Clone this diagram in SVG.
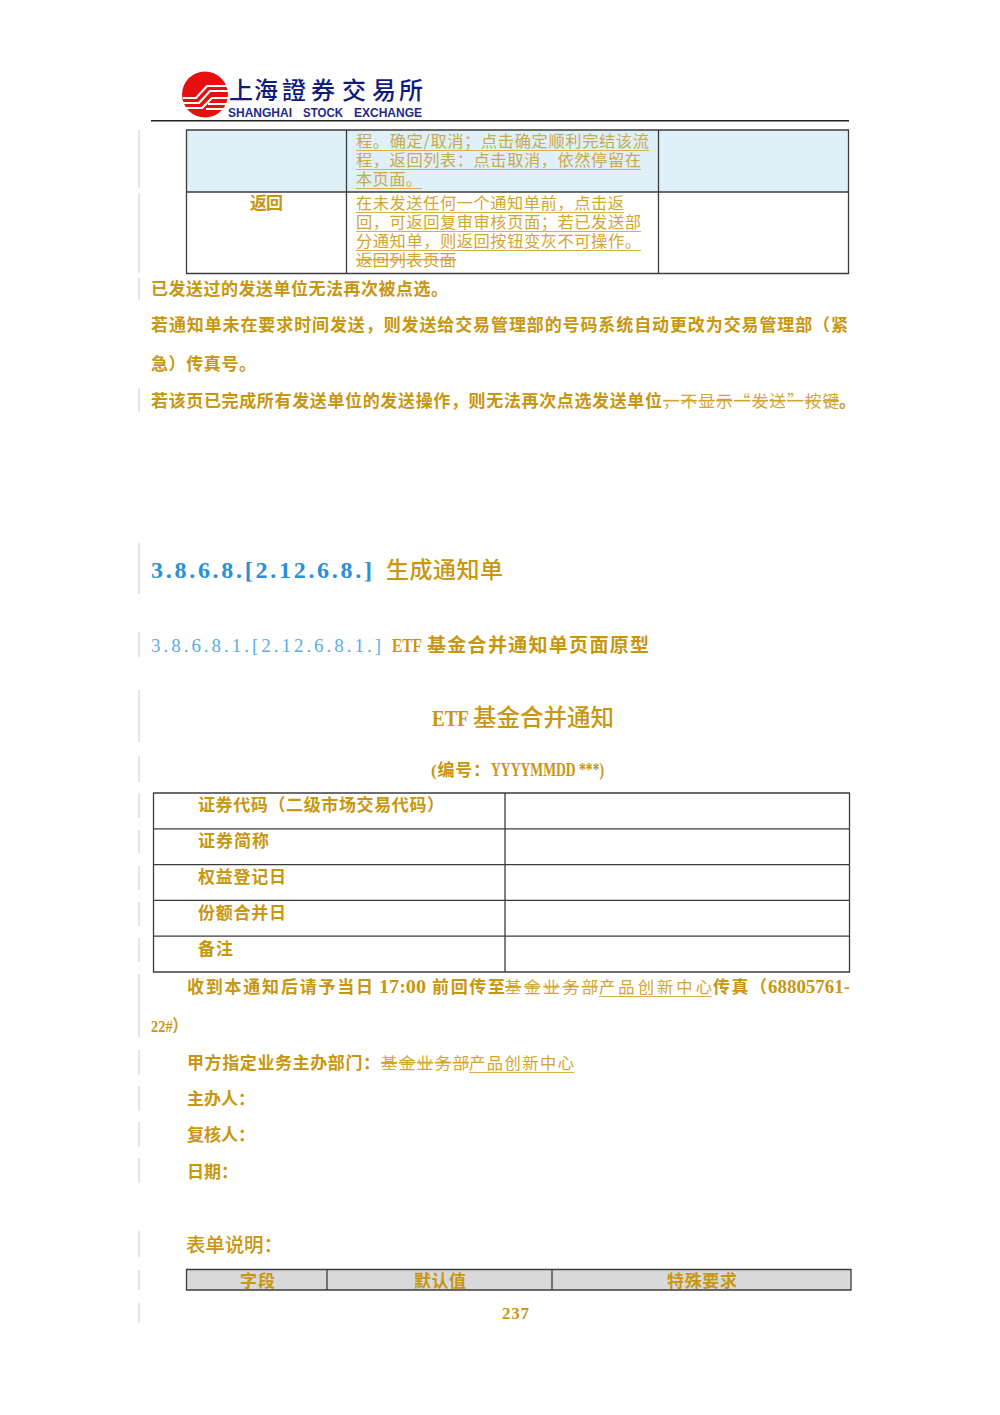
<svg xmlns="http://www.w3.org/2000/svg" width="1000" height="1415" viewBox="0 0 1000 1415">
<style>
text{font-family:"Liberation Serif","Noto Sans CJK SC",serif;fill:#c8960f}
.b{font-weight:700;font-size:17px}
.n{font-weight:700;font-size:19px}
.u{font-size:16.3px;fill:#d3a52e;font-family:"Noto Sans CJK SC",sans-serif;font-weight:400}
.m{fill:#c9a94f}
.s{text-decoration:line-through;text-decoration-skip-ink:none}
.bar{stroke:#dcdcdc;stroke-width:1.5}
.grid{fill:none;stroke:#3c3c3c;stroke-width:1.3}
.ul{fill:none;stroke:#d9b04a;stroke-width:1}
.cn{fill:#101a7e;font-family:"Noto Sans CJK SC",sans-serif;font-size:24px;font-weight:500}
.en{fill:#1d2a8c;font-family:"Liberation Sans",sans-serif;font-size:12.5px;font-weight:700}
</style>
<rect width="1000" height="1415" fill="#fff"/>
<g id="logo">
<circle cx="205" cy="94.500" r="23" fill="#e8100f"/>
<path d="M183 98H196L207 86H228M183 103H199L210 91H228M186 108H202L212 98H228M208 104H228M206 109H226" fill="none" stroke="#fff" stroke-width="2.200"/>
<text class="cn" x="229 254 282 311 342 372 399" y="99">上海證券交易所</text>
<text class="en" x="228" y="117" textLength="64" lengthAdjust="spacingAndGlyphs">SHANGHAI</text>
<text class="en" x="303" y="117" textLength="40" lengthAdjust="spacingAndGlyphs">STOCK</text>
<text class="en" x="354" y="117" textLength="68" lengthAdjust="spacingAndGlyphs">EXCHANGE</text>
</g>
<path d="M151 120.800H849" stroke="#222" stroke-width="1.500"/>
<g id="changebars" class="bar">
<path d="M139 130V188M139 193V273M139 278V300M139 388V412M139 543V594M139 632V657M139 690V742M139 756V782M139 793V818M139 830V853M139 866V890M139 902V926M139 938V962M139 974V1037M139 1050V1075M139 1086V1111M139 1122V1147M139 1158V1183M139 1231V1257M139 1270V1290M139 1303V1323"/>
</g>
<g id="table1">
<rect x="186.500" y="130" width="662" height="62" fill="#dff0f8"/>
<path class="grid" d="M186.500 130H848.500V273.500H186.500ZM186.500 192H848.500M346.500 130V273.500M658.500 130V273.500"/>
<text class="u m" x="356" y="147" textLength="293">程。确定/取消；点击确定顺利完结该流</text>
<text class="u m" x="356" y="166" textLength="285">程，返回列表：点击取消，依然停留在</text>
<text class="u m" x="356" y="185" textLength="66">本页面。</text>
<text class="b" x="250" y="209" textLength="33">返回</text>
<text class="u" x="356" y="209" textLength="268">在未发送任何一个通知单前，点击返</text>
<text class="u" x="356" y="228" textLength="285">回，可返回复审审核页面；若已发送部</text>
<text class="u" x="356" y="247" textLength="285">分通知单，则返回按钮变灰不可操作。</text>
<text class="u s" x="356" y="266" textLength="100">返回列表页面</text>
<path class="ul" d="M356 150.500H649M356 169.500H641M356 188.500H422M356 212.500H624M356 231.500H641M356 250.500H641"/>
</g>
<g id="paragraphs1">
<text class="b" x="151" y="295" textLength="297">已发送过的发送单位无法再次被点选。</text>
<text class="b" x="151" y="331" textLength="697">若通知单未在要求时间发送，则发送给交易管理部的号码系统自动更改为交易管理部（紧</text>
<text class="b" x="151" y="370" textLength="105">急）传真号。</text>
<text class="b" x="151" y="407" textLength="511">若该页已完成所有发送单位的发送操作，则无法再次点选发送单位</text>
<text class="u s" x="663" y="407" textLength="176">，不显示“发送”按键</text>
<text class="b" x="839" y="407">。</text>
</g>
<g id="headings">
<text x="151" y="578" font-size="24" font-weight="700" textLength="221" style="fill:#2a8fd6">3.8.6.8.[2.12.6.8.]</text>
<text x="386" y="578" font-size="23" font-weight="500" textLength="117" style="font-family:'Noto Sans CJK SC',sans-serif">生成通知单</text>
<text x="151" y="652" font-size="19" textLength="230" style="fill:#5aaee6">3.8.6.8.1.[2.12.6.8.1.]</text>
<text class="n" x="392" y="652" textLength="30" lengthAdjust="spacingAndGlyphs">ETF</text>
<text x="427" y="652" font-size="19" font-weight="700" textLength="222">基金合并通知单页面原型</text>
<text x="432" y="726" font-size="24" font-weight="700" textLength="37" lengthAdjust="spacingAndGlyphs">ETF</text>
<text x="473" y="726" font-size="23.500" font-weight="500" textLength="141" style="font-family:'Noto Sans CJK SC',sans-serif">基金合并通知</text>
<text class="b" x="431" y="776" textLength="59">(编号：</text>
<text class="n" x="491" y="776" textLength="113" lengthAdjust="spacingAndGlyphs">YYYYMMDD ***)</text>
</g>
<g id="table2">
<path class="grid" d="M153.500 793H849.500V972H153.500ZM153.500 828.800H849.500M153.500 864.600H849.500M153.500 900.400H849.500M153.500 936.200H849.500M505 793V972"/>
<text class="b" x="198" y="811" textLength="246">证券代码（二级市场交易代码）</text>
<text class="b" x="198" y="847" textLength="71">证券简称</text>
<text class="b" x="198" y="883" textLength="88">权益登记日</text>
<text class="b" x="198" y="919" textLength="88">份额合并日</text>
<text class="b" x="198" y="955" textLength="35">备注</text>
</g>
<g id="paragraphs2">
<text class="b" x="187" y="993" textLength="186">收到本通知后请予当日</text>
<text class="n" x="379" y="993" textLength="47" lengthAdjust="spacingAndGlyphs">17:00</text>
<text class="b" x="432" y="993" textLength="73">前回传至</text>
<text class="u s" x="505" y="993" textLength="93">基金业务部</text>
<text class="u" x="599" y="993" textLength="113">产品创新中心</text>
<text class="b" x="713" y="993" textLength="54">传真（</text>
<text class="n" x="768" y="993" textLength="82" lengthAdjust="spacingAndGlyphs">68805761-</text>
<text class="b" x="151" y="1032" textLength="36" lengthAdjust="spacingAndGlyphs">22#）</text>
<text class="b" x="187" y="1069" textLength="193">甲方指定业务主办部门：</text>
<text class="u s" x="381" y="1069" textLength="88">基金业务部</text>
<text class="u" x="469" y="1069" textLength="105">产品创新中心</text>
<path class="ul" d="M599 996.500H712M469 1072.500H574"/>
<text class="b" x="187" y="1105" textLength="68">主办人：</text>
<text class="b" x="187" y="1141" textLength="68">复核人：</text>
<text class="b" x="187" y="1178" textLength="51">日期：</text>
<text x="186" y="1252" font-size="19.500" font-weight="500" textLength="97" style="font-family:'Noto Sans CJK SC',sans-serif">表单说明：</text>
</g>
<g id="table3">
<rect x="186.500" y="1269" width="664.500" height="21" fill="#d9d9d9"/>
<path class="grid" d="M186.500 1269.500H851V1290H186.500ZM327 1269.500V1290M552 1269.500V1290"/>
<text class="b" x="240" y="1287" textLength="35">字段</text>
<text class="b" x="414" y="1287" textLength="52">默认值</text>
<text class="b" x="667" y="1287" textLength="70">特殊要求</text>
</g>
<text id="pagenum" x="502" y="1319" font-size="17" font-weight="700" textLength="27">237</text>
</svg>
